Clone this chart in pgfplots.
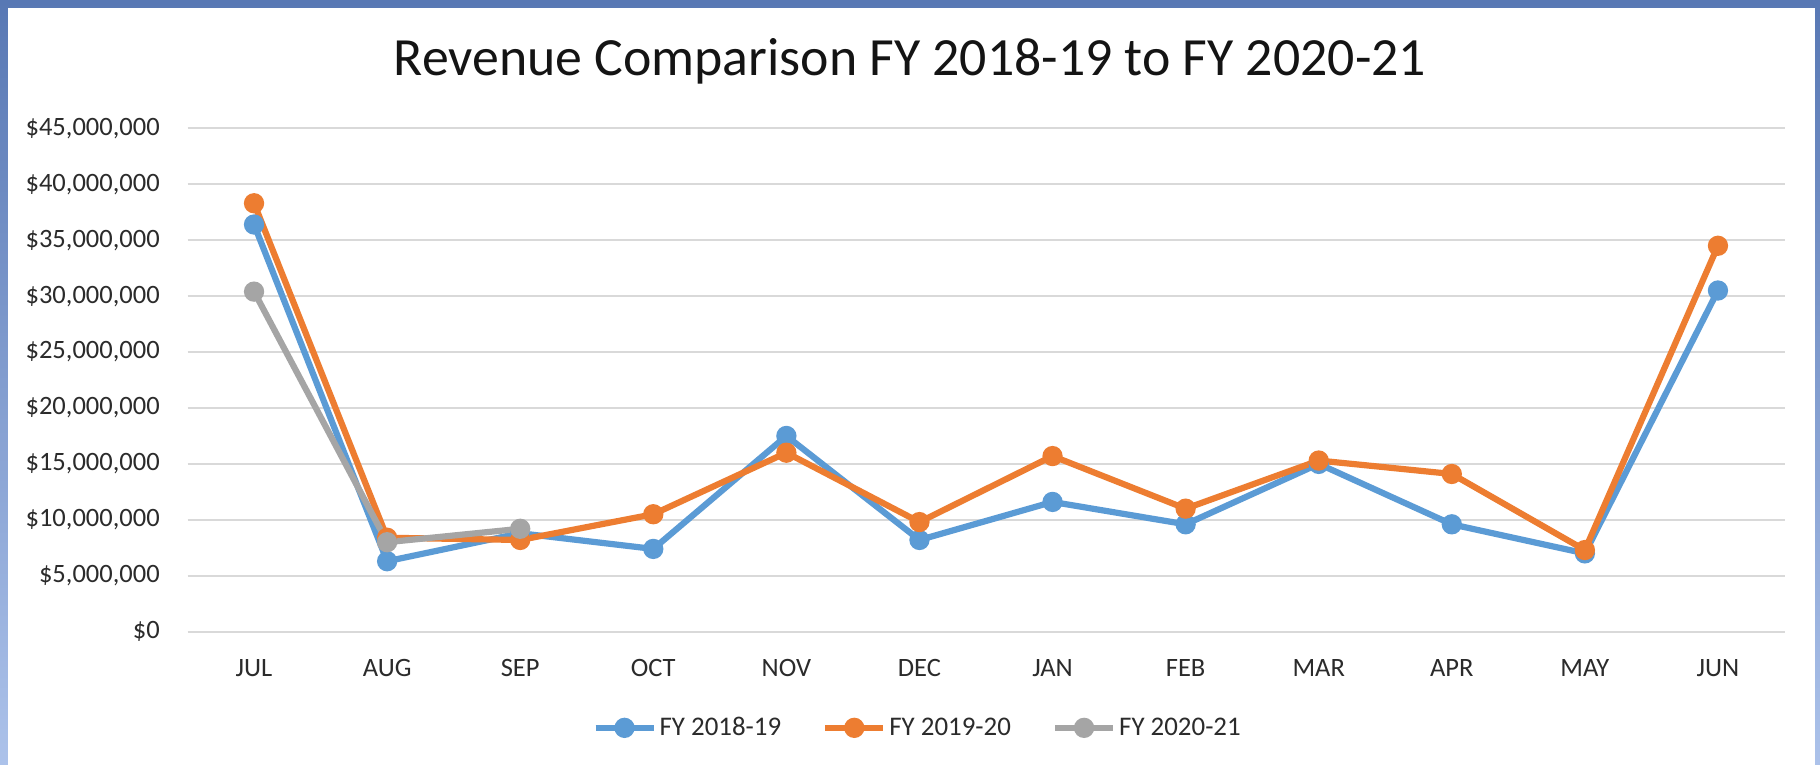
\documentclass[border=0pt]{standalone}
\usepackage{pgfplots}
\pgfplotsset{compat=1.18}
\usepackage{fontspec}
\setmainfont{Carlito}
\definecolor{sblue}{HTML}{5B9BD5}
\definecolor{sorange}{HTML}{ED7D31}
\definecolor{sgray}{HTML}{A5A5A5}
\definecolor{gridc}{HTML}{D9D9D9}
\definecolor{txt}{HTML}{2B2B2B}
\definecolor{frametop}{RGB}{88,120,180}
\definecolor{framebot}{RGB}{172,194,234}
\begin{document}
\begin{tikzpicture}
\shade[top color=frametop, bottom color=framebot] (0bp,0bp) rectangle (910bp,382.5bp);
\fill[white] (4bp,0bp) rectangle (907.5bp,378.5bp);
\node[font=\fontsize{27}{31}\selectfont, text=black!92] at (455bp,352bp) {Revenue Comparison FY 2018-19 to FY 2020-21};
\begin{axis}[
  at={(93.75bp,66.65bp)}, anchor=south west,
  width=798.5bp, height=251.7bp, scale only axis,
  xmin=-0.5, xmax=11.5, ymin=0, ymax=45,
  axis line style={draw=none},
  major tick length=0pt,
  xtick={0,...,11},
  xticklabels={JUL,AUG,SEP,OCT,NOV,DEC,JAN,FEB,MAR,APR,MAY,JUN},
  ytick={0,5,...,45},
  yticklabels={\$0,{\$5,000,000},{\$10,000,000},{\$15,000,000},{\$20,000,000},{\$25,000,000},{\$30,000,000},{\$35,000,000},{\$40,000,000},{\$45,000,000}},
  ymajorgrids, major grid style={draw=gridc, line width=1bp},
  yticklabel style={font=\fontsize{13.3}{15}\selectfont, text=txt, inner sep=0pt, xshift=-13.7bp},
  xticklabel style={font=\fontsize{13.3}{15}\selectfont, text=txt, inner sep=0pt, anchor=center, yshift=-18.2bp},
  every axis plot/.append style={line width=3.1bp, mark=*, mark size=3.5bp},
  legend columns=3,
  legend style={at={(0.2533,-0.191)}, anchor=west, draw=none, fill=none, inner sep=0pt,
    font=\fontsize{13.5}{15}\selectfont, text=txt,
    /tikz/every even column/.append style={column sep=19bp},
    nodes={inner sep=1.5bp}},
  legend image code/.code={\draw[mark repeat=2,mark phase=2,#1] plot coordinates {(0bp,0bp) (14.5bp,0bp) (29bp,0bp)};},
  clip=false,
]
\addplot[color=sblue] coordinates {(0,36.4) (1,6.3) (2,8.8) (3,7.4) (4,17.5) (5,8.2) (6,11.6) (7,9.6) (8,15.0) (9,9.6) (10,7.0) (11,30.5)};
\addlegendentry{FY 2018-19}
\addplot[color=sorange] coordinates {(0,38.3) (1,8.4) (2,8.2) (3,10.5) (4,16.0) (5,9.8) (6,15.7) (7,11.0) (8,15.3) (9,14.1) (10,7.3) (11,34.5)};
\addlegendentry{FY 2019-20}
\addplot[color=sgray] coordinates {(0,30.4) (1,8.0) (2,9.2)};
\addlegendentry{FY 2020-21}
\end{axis}
\end{tikzpicture}
\end{document}
